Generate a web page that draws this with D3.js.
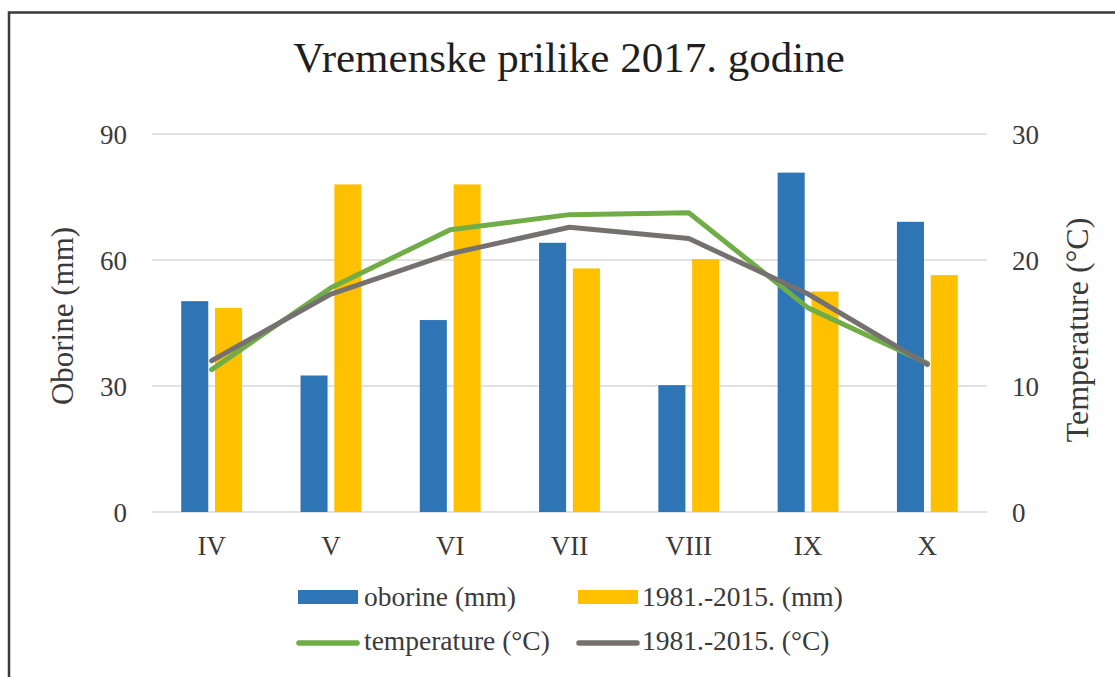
<!DOCTYPE html>
<html>
<head>
    <meta charset="utf-8">
    <title>Vremenske prilike 2017. godine</title>
    <script src="https://d3js.org/d3.v7.min.js"></script>
    <style>
        body {
            margin: 0;
            background: #fff;
        }
        svg text {
            font-family: "Liberation Serif", "Times New Roman", serif;
            fill: #3a3a3a;
        }
    </style>
</head>
<body>
    <div id="chart"></div>

    <script>
        // podaci (očitano s grafa)
        const months = ["IV", "V", "VI", "VII", "VIII", "IX", "X"];
        const oborine = [50.2, 32.5, 45.7, 64.1, 30.2, 80.8, 69.1];
        const oborineProsjek = [48.6, 78.0, 78.0, 58.0, 60.2, 52.5, 56.4];
        const temperatura = [11.3, 17.8, 22.4, 23.6, 23.75, 16.2, 11.8];
        const temperaturaProsjek = [12.0, 17.3, 20.5, 22.6, 21.7, 17.3, 11.7];
        const leftTicks = [0, 30, 60, 90];
        const rightTicks = [0, 10, 20, 30];
        const seriesNames = ["oborine (mm)", "1981.-2015. (mm)", "temperature (°C)", "1981.-2015. (°C)"];
        const seriesColors = ["#2E75B6", "#FFC000", "#70AD47", "#767171"];

        const width = 1115, height = 677;
        const plot = { left: 152, right: 987, top: 134, bottom: 512 };

        const svg = d3.select("#chart")
            .append("svg")
            .attr("width", width)
            .attr("height", height);

        // okvir grafa (desni i donji rub su odrezani)
        svg.append("path")
            .attr("d", `M9,${height + 5} L9,12.5 L${width + 5},12.5`)
            .attr("fill", "none")
            .attr("stroke", "#3a3a3a")
            .attr("stroke-width", 2.5);

        // skale
        const x0 = d3.scaleBand()
            .domain(months)
            .range([plot.left, plot.right])
            .paddingInner(0.49)
            .paddingOuter(0.245);

        const x1 = d3.scaleBand()
            .domain([0, 1])
            .range([0, x0.bandwidth()])
            .paddingInner(0.2);

        const yLeft = d3.scaleLinear().domain([0, 90]).range([plot.bottom, plot.top]);
        const yRight = d3.scaleLinear().domain([0, 30]).range([plot.bottom, plot.top]);

        const center = m => x0(m) + x0.bandwidth() / 2;

        // mreža
        svg.append("g")
            .selectAll("line")
            .data(leftTicks)
            .enter()
            .append("line")
            .attr("x1", plot.left)
            .attr("x2", plot.right)
            .attr("y1", d => yLeft(d))
            .attr("y2", d => yLeft(d))
            .attr("stroke", "#d9d9d9")
            .attr("stroke-width", 1.5);

        // lijeva os
        const leftAxis = svg.append("g")
            .attr("transform", `translate(${plot.left - 25},0)`)
            .call(d3.axisLeft(yLeft).tickValues(leftTicks).tickSize(0).tickPadding(0));
        leftAxis.select(".domain").remove();
        leftAxis.selectAll("text")
            .style("font-size", "27px")
            .attr("dy", "0.34em");

        // desna os
        const rightAxis = svg.append("g")
            .attr("transform", `translate(${plot.right + 25},0)`)
            .call(d3.axisRight(yRight).tickValues(rightTicks).tickSize(0).tickPadding(0));
        rightAxis.select(".domain").remove();
        rightAxis.selectAll("text")
            .style("font-size", "27px")
            .attr("dy", "0.34em");

        // x os - samo oznake mjeseci
        svg.append("g")
            .selectAll("text")
            .data(months)
            .enter()
            .append("text")
            .attr("x", d => center(d))
            .attr("y", 555)
            .attr("text-anchor", "middle")
            .style("font-size", "27px")
            .text(d => d);

        // naslovi osi
        svg.append("text")
            .attr("transform", "translate(73,316) rotate(-90)")
            .attr("text-anchor", "middle")
            .style("font-size", "31px")
            .text("Oborine (mm)");

        svg.append("text")
            .attr("transform", "translate(1088,330) rotate(-90)")
            .attr("text-anchor", "middle")
            .style("font-size", "32px")
            .text("Temperature (°C)");

        // naslov
        svg.append("text")
            .attr("x", 569)
            .attr("y", 72)
            .attr("text-anchor", "middle")
            .style("font-size", "43px")
            .style("fill", "#1f1f1f")
            .text("Vremenske prilike 2017. godine");

        // stupci
        const barData = months.map((m, i) => ({ m, values: [oborine[i], oborineProsjek[i]] }));

        svg.append("g")
            .selectAll("g")
            .data(barData)
            .enter()
            .append("g")
            .attr("transform", d => `translate(${x0(d.m)},0)`)
            .selectAll("rect")
            .data(d => d.values.map((v, k) => ({ k, v })))
            .enter()
            .append("rect")
            .attr("x", d => x1(d.k))
            .attr("y", d => yLeft(d.v))
            .attr("width", x1.bandwidth())
            .attr("height", d => yLeft(0) - yLeft(d.v))
            .attr("fill", d => seriesColors[d.k]);

        // linije temperature
        const line = d3.line()
            .x((d, i) => center(months[i]))
            .y(d => yRight(d));

        [temperatura, temperaturaProsjek].forEach((s, k) => {
            svg.append("path")
                .datum(s)
                .attr("d", line)
                .attr("fill", "none")
                .attr("stroke", seriesColors[k + 2])
                .attr("stroke-width", 5)
                .attr("stroke-linejoin", "round")
                .attr("stroke-linecap", "round");
        });

        // legenda
        const legendCols = [298, 578];
        const legendRows = [597, 641];

        const legend = svg.append("g")
            .selectAll("g")
            .data(seriesNames)
            .enter()
            .append("g")
            .attr("transform", (d, i) => `translate(${legendCols[i % 2]},${legendRows[Math.floor(i / 2)]})`);

        legend.filter((d, i) => i < 2)
            .append("rect")
            .attr("x", 0)
            .attr("y", -7)
            .attr("width", 60)
            .attr("height", 14)
            .attr("fill", (d, i) => seriesColors[i]);

        legend.filter((d, i) => i >= 2)
            .append("line")
            .attr("x1", 1)
            .attr("x2", 59)
            .attr("y1", 2)
            .attr("y2", 2)
            .attr("stroke", (d, i) => seriesColors[i + 2])
            .attr("stroke-width", 5.5)
            .attr("stroke-linecap", "round");

        legend.append("text")
            .attr("x", (d, i) => i % 2 === 0 ? 66 : 64)
            .attr("y", 0)
            .attr("dy", "0.34em")
            .style("font-size", "27.5px")
            .text(d => d);
    </script>
</body>
</html>
